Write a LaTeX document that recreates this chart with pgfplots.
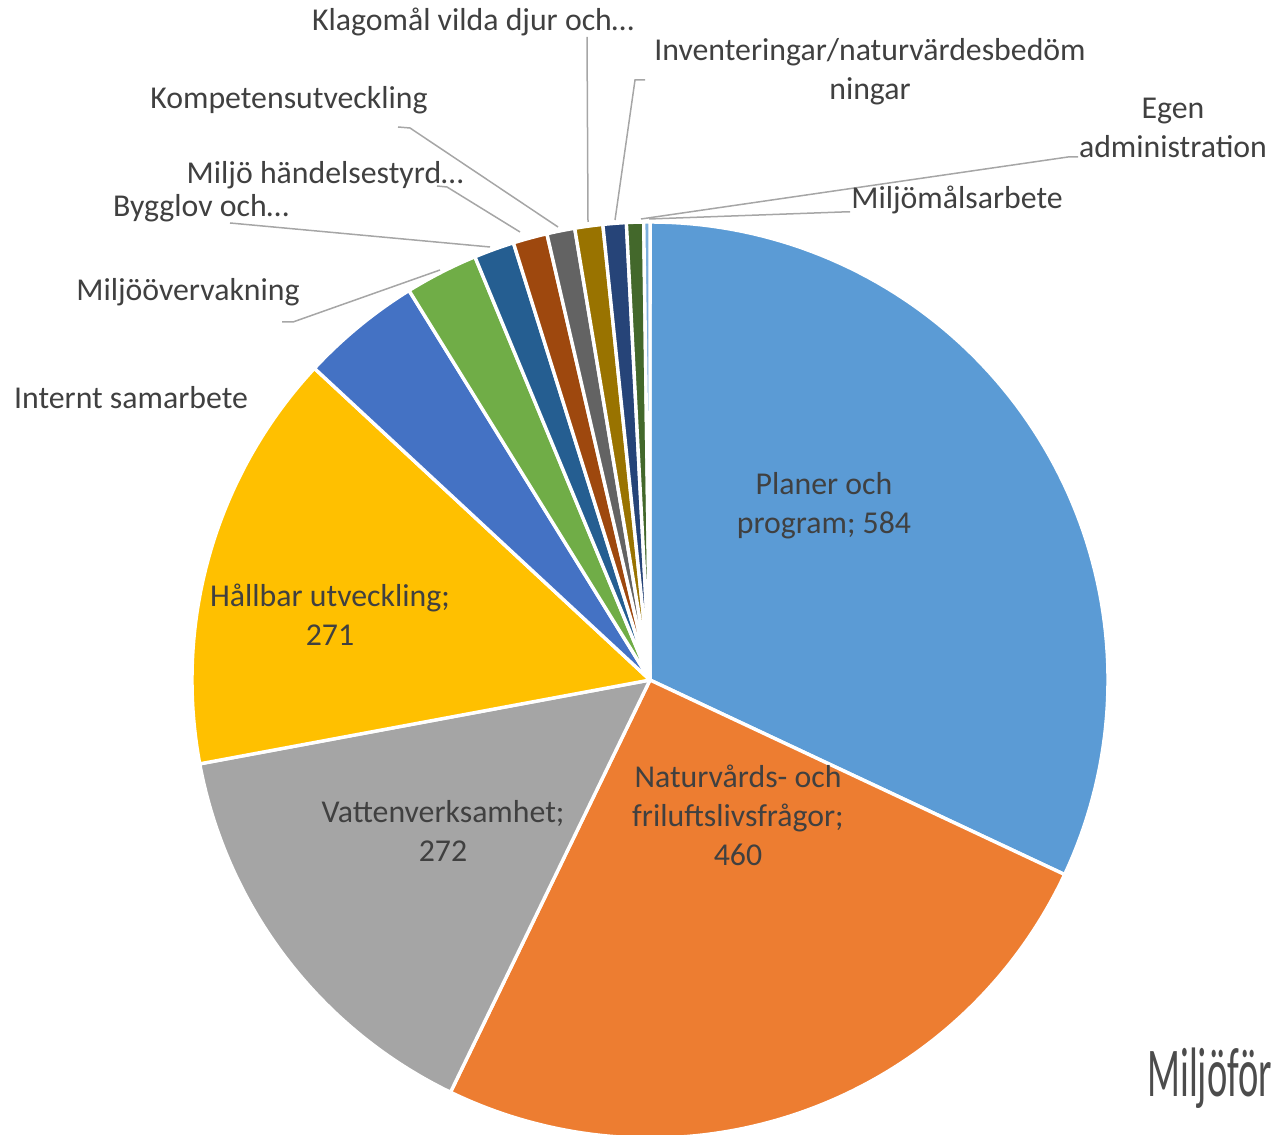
\documentclass[border=0pt]{standalone}
\usepackage{pgfplots}
\pgfplotsset{compat=1.18}
\usepackage{pgfplotstable}
\usepackage{fontspec}
\setmainfont{Carlito}
\definecolor{c0}{HTML}{5B9BD5}
\definecolor{c1}{HTML}{ED7D31}
\definecolor{c2}{HTML}{A5A5A5}
\definecolor{c3}{HTML}{FFC000}
\definecolor{c4}{HTML}{4472C4}
\definecolor{c5}{HTML}{70AD47}
\definecolor{c6}{HTML}{255E91}
\definecolor{c7}{HTML}{9E480E}
\definecolor{c8}{HTML}{636363}
\definecolor{c9}{HTML}{997300}
\definecolor{c10}{HTML}{264478}
\definecolor{c11}{HTML}{43682B}
\definecolor{c12}{HTML}{7CAFDD}
\definecolor{txt}{HTML}{404040}
\definecolor{lead}{HTML}{A6A6A6}
\pgfplotstableread{
value
584
460
272
271
78
47
26
22
18
18
15
11
4
}\piedata
\begin{document}
\fontsize{15.9pt}{19.5pt}\selectfont
\begin{tikzpicture}
\begin{axis}[width=636pt,height=567pt,scale only axis,
  xmin=0,xmax=1272,ymin=0,ymax=1134,hide axis,clip=false]
\coordinate (ll) at (axis cs:0,0);
\coordinate (ur) at (axis cs:1272,1134);
\pgfmathsetmacro{\cum}{0}
\pgfplotsforeachungrouped \i in {0,...,12}{%
  \pgfplotstablegetelem{\i}{value}\of\piedata
  \pgfmathsetmacro{\aS}{90-360*(\cum/1826)}%
  \pgfmathsetmacro{\cum}{\cum+\pgfplotsretval}%
  \pgfmathsetmacro{\aE}{90-360*(\cum/1826)}%
  \edef\doplot{\noexpand\addplot[draw=white,line width=1.7pt,line join=round,fill=c\i,domain=\aE:\aS,samples=90] ({650+458*cos(x)},{454+458*sin(x)}) -- (axis cs:650,454) -- cycle;}%
  \doplot
}
% leader lines
\addplot[color=lead,line width=0.75pt] coordinates {(282,812) (293,812) (440,864)};
\addplot[color=lead,line width=0.75pt] coordinates {(230,911) (490,887)};
\addplot[color=lead,line width=0.75pt] coordinates {(437,948) (447,947) (520,902)};
\addplot[color=lead,line width=0.75pt] coordinates {(398,1007) (410,1006) (558,907)};
\addplot[color=lead,line width=0.75pt] coordinates {(587,1097) (588,912)};
\addplot[color=lead,line width=0.75pt] coordinates {(645,1054) (635,1054) (615,914)};
\addplot[color=lead,line width=0.75pt] coordinates {(1078,977) (1068,977) (641,915)};
\addplot[color=lead,line width=0.75pt] coordinates {(850,922) (842,922) (649,915)};
% labels
\node[text=txt,align=center] at (axis cs:824,628) {Planer och\\program; 584};
\node[text=txt,align=center] at (axis cs:738,319) {Naturvårds- och\\friluftslivsfrågor;\\460};
\node[text=txt,align=center] at (axis cs:443,303) {Vattenverksamhet;\\272};
\node[text=txt,align=center] at (axis cs:330,519.5) {Hållbar utveckling;\\271};
\node[text=txt] at (axis cs:131,736) {Internt samarbete};
\node[text=txt] at (axis cs:188,842) {Miljöövervakning};
\node[text=txt] at (axis cs:201,926) {Bygglov och…};
\node[text=txt] at (axis cs:325,959) {Miljö händelsestyrd…};
\node[text=txt] at (axis cs:289,1034) {Kompetensutveckling};
\node[text=txt] at (axis cs:473,1112) {Klagomål vilda djur och…};
\node[text=txt,align=center] at (axis cs:870,1062.5) {Inventeringar/naturvärdesbedöm\\ningar};
\node[text=txt,align=center] at (axis cs:1173,1006.5) {Egen\\administration};
\node[text=txt] at (axis cs:957,934) {Miljömålsarbete};
\node[text=black!70,anchor=west,inner sep=0pt] at (axis cs:1147,56) {\scalebox{0.55}[1]{\fontsize{35pt}{35pt}\selectfont Miljöför}};
\end{axis}
\pgfresetboundingbox
\path (ll) rectangle (ur);
\end{tikzpicture}
\end{document}
